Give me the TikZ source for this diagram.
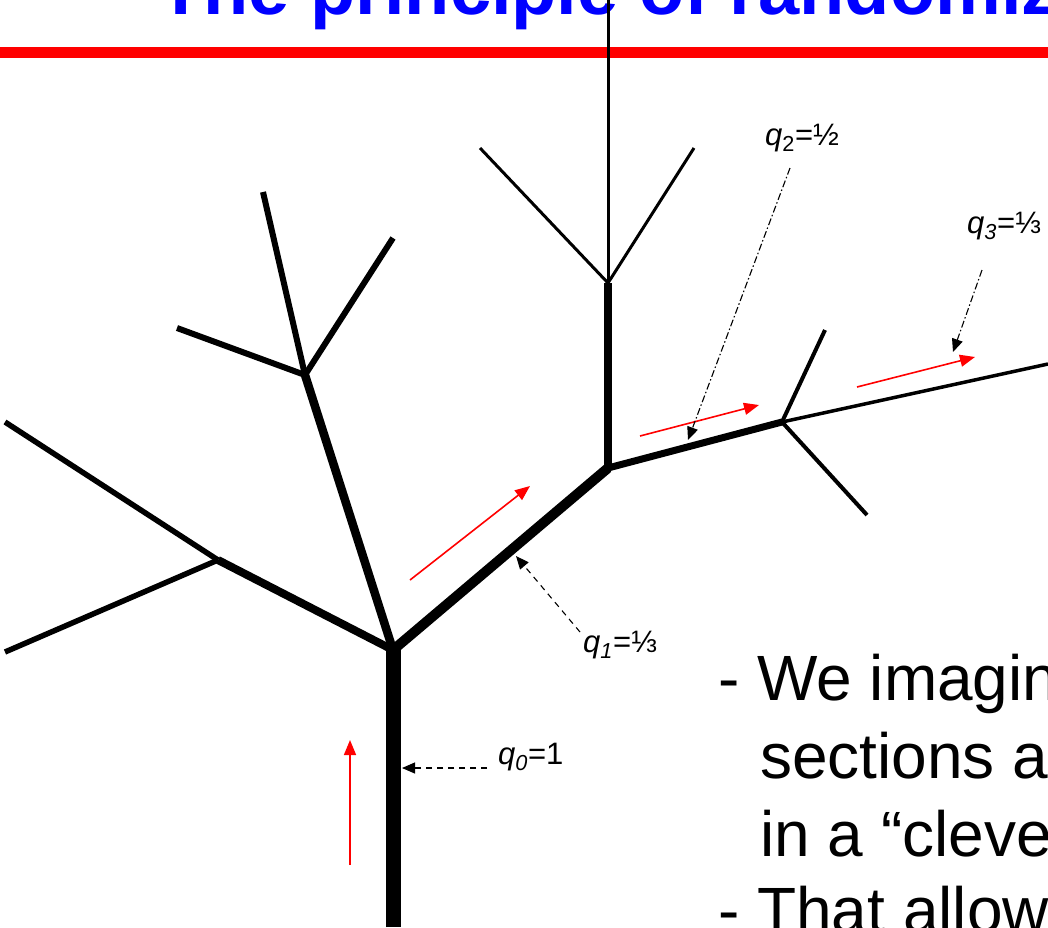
\documentclass[tikz,border=0pt]{standalone}
\usepackage{fontspec}
\setmainfont{Liberation Sans}
\usepackage{tikz}
\usetikzlibrary{arrows.meta}
\definecolor{titleblue}{HTML}{0000FF}
\definecolor{redred}{HTML}{FF0000}

\begin{document}
\begin{tikzpicture}[x=1pt,y=-1pt,
  flow/.style={redred,line width=1.6pt,-{Triangle[length=15pt,width=12pt]}},
  pointer/.style={black,line width=1.1pt,-{Triangle[length=13pt,width=11pt]}},
  shortdash/.style={dash pattern=on 6pt off 5pt},
  dotdash/.style={dash pattern=on 7pt off 2.5pt on 1.5pt off 2.5pt},
  label/.style={font=\fontsize{31}{34}\selectfont,anchor=west,inner sep=0pt},
  bodyline/.style={anchor=base west,inner sep=0pt,font=\fontsize{64}{70}\selectfont}]
\useasboundingbox (0,0) rectangle (1048,927);
% title and rule
\node[anchor=base west,inner sep=0pt,text=titleblue,font=\fontsize{74}{80}\selectfont\bfseries] (title) at (158,14) {The principle of randomiz};
\draw[redred,line width=11pt] (0,52) -- (1048,52);
% tree junctions
\coordinate (root) at (393,927);
\coordinate (a) at (393,650);
\coordinate (b) at (608,468);
\coordinate (c) at (305,375);
\coordinate (d) at (218,560);
\coordinate (e) at (608,283);
\coordinate (f) at (782,422);
% tree
\draw[line width=15pt] (root) -- (a);
\draw[line width=10pt] (a) -- (b);
\draw[line width=8.5pt] (a) -- (c);
\draw[line width=8pt] (a) -- (d);
\draw[line width=5.5pt] (d) -- (5,422);
\draw[line width=5.5pt] (d) -- (5,652);
\draw[line width=6pt] (c) -- (263,192);
\draw[line width=6pt] (c) -- (393,238);
\draw[line width=6pt] (c) -- (177,328);
\draw[line width=7.5pt] (b) -- (e);
\draw[line width=7pt] (b) -- (f);
\draw[line width=3pt] (e) -- (608,0);
\draw[line width=3pt] (e) -- (480,148);
\draw[line width=3pt] (e) -- (694,148);
\draw[line width=4pt] (f) -- (825,330);
\draw[line width=4pt] (f) -- (867,515);
\draw[line width=3.5pt] (f) -- (1048,364);
% flow arrows
\coordinate (r0s) at (350,865); \coordinate (r0e) at (350,740);
\coordinate (r1s) at (410,580); \coordinate (r1e) at (530,486);
\coordinate (r2s) at (640,436); \coordinate (r2e) at (759,405);
\coordinate (r3s) at (857,387); \coordinate (r3e) at (975,357);
\draw[flow] (r0s) -- (r0e);
\draw[flow] (r1s) -- (r1e);
\draw[flow] (r2s) -- (r2e);
\draw[flow] (r3s) -- (r3e);
% probabilities
\node[label] (q0) at (498,757) {\textit{q}\textsubscript{\textit{0}}=1};
\node[label] (q1) at (583,645) {\textit{q}\textsubscript{\textit{1}}=⅓};
\node[label] (q2) at (765,138) {\textit{q}\textsubscript{2}=½};
\node[label] (q3) at (967,226) {\textit{q}\textsubscript{\textit{3}}=⅓};
\coordinate (t0) at (402,768);
\coordinate (t1) at (516,556);
\coordinate (t2) at (688,440);
\coordinate (t3) at (953,352);
\draw[pointer,shortdash] (487,768) -- (t0);
\draw[pointer,shortdash] (580,632) -- (t1);
\draw[pointer,dotdash] (790,168) -- (t2);
\draw[pointer,dotdash] (982,270) -- (t3);
% text
\node[bodyline] (line1) at (718,700) {- We imagin};
\node[bodyline] (line2) at (760,778) {sections ar};
\node[bodyline] (line3) at (760,856) {in a “cleve};
\node[bodyline] (line4) at (718,932) {- That allow};
\end{tikzpicture}
\end{document}
